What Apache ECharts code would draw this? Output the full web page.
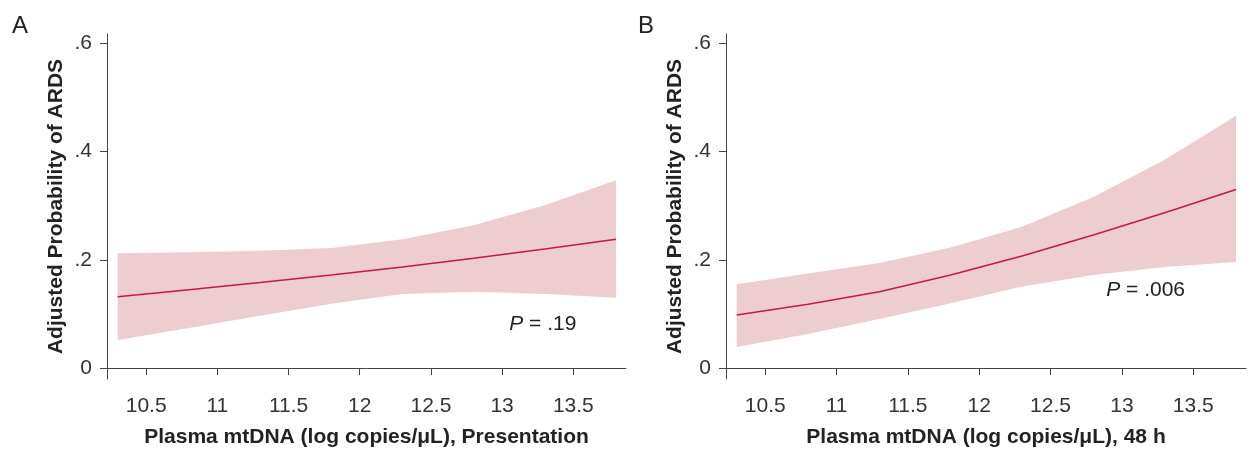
<!DOCTYPE html>
<html>
<head>
<meta charset="utf-8">
<script src="https://cdn.jsdelivr.net/npm/echarts@6/dist/echarts.min.js"></script>
<style>
  html, body { margin: 0; padding: 0; background: #fff; }
  #main { width: 1256px; height: 449px; }
</style>
</head>
<body>
<div id="main"></div>
<script>
// mtDNA values where the fit was evaluated
var mtdna = [10.3, 10.8, 11.3, 11.8, 12.3, 12.8, 13.3, 13.8];

// panel A: presentation
var probA  = [0.132, 0.145, 0.158, 0.172, 0.187, 0.203, 0.220, 0.238];
var lowerA = [0.052, 0.074, 0.097, 0.119, 0.137, 0.141, 0.137, 0.130];
var upperA = [0.212, 0.214, 0.217, 0.222, 0.238, 0.264, 0.301, 0.347];

// panel B: 48 h
var probB  = [0.098, 0.118, 0.141, 0.172, 0.207, 0.246, 0.287, 0.330];
var lowerB = [0.039, 0.063, 0.091, 0.120, 0.151, 0.172, 0.187, 0.196];
var upperB = [0.155, 0.175, 0.194, 0.223, 0.261, 0.316, 0.385, 0.466];

var xTicks = [10.5, 11, 11.5, 12, 12.5, 13, 13.5];
var yTicks = [0, 0.2, 0.4, 0.6];

var xTitles = ['Plasma mtDNA (log copies/\u03bcL), Presentation', 'Plasma mtDNA (log copies/\u03bcL), 48 h'];
var yTitle = 'Adjusted Probability of ARDS';
var pTexts = ['.19', '.006'];
var pPos = [[13.05, 0.081], [12.89, 0.144]];

var font = '"Liberation Sans", Arial, Helvetica, sans-serif';
var fs = 21;
var lineColor = '#c8164b';
var bandColor = '#eecdd0';
var axisColor = '#444';

var chart = echarts.init(document.getElementById('main'));

function pairs(xs, ys) {
  return xs.map(function (x, i) { return [x, ys[i]]; });
}

function bandSeries(idx, lower, upper) {
  return {
    type: 'custom',
    xAxisIndex: idx,
    yAxisIndex: idx,
    silent: true,
    z: 1,
    data: [[mtdna[0], lower[0]]],
    renderItem: function (params, api) {
      var pts = [];
      for (var i = 0; i < mtdna.length; i++) pts.push(api.coord([mtdna[i], upper[i]]));
      for (var j = mtdna.length - 1; j >= 0; j--) pts.push(api.coord([mtdna[j], lower[j]]));
      return {
        type: 'polygon',
        shape: { points: pts },
        style: { fill: bandColor, stroke: null }
      };
    }
  };
}

function xAxis(idx) {
  return {
    type: 'value',
    gridIndex: idx,
    min: 10.225,
    max: 13.87,
    name: xTitles[idx],
    nameLocation: 'middle',
    nameGap: 48,
    nameTextStyle: { fontFamily: font, fontSize: fs, fontWeight: 'bold', color: '#222' },
    axisLine: { show: true, lineStyle: { color: axisColor, width: 1 } },
    axisTick: { show: true, length: 7, customValues: xTicks, lineStyle: { color: axisColor } },
    axisLabel: {
      customValues: xTicks,
      margin: 17,
      fontFamily: font, fontSize: fs, color: '#333',
      formatter: function (v) { return String(v); }
    },
    splitLine: { show: false }
  };
}

function yAxis(idx) {
  return {
    type: 'value',
    gridIndex: idx,
    min: -0.02,
    max: 0.617,
    name: yTitle,
    nameLocation: 'middle',
    nameRotate: 90,
    nameGap: 40,
    nameTextStyle: { fontFamily: font, fontSize: fs, fontWeight: 'bold', color: '#222' },
    axisLine: { show: true, lineStyle: { color: axisColor, width: 1 } },
    axisTick: { show: true, length: 7, customValues: yTicks, lineStyle: { color: axisColor } },
    axisLabel: {
      customValues: yTicks,
      margin: 15,
      fontFamily: font, fontSize: fs, color: '#333',
      formatter: function (v) {
        if (Math.abs(v) < 1e-9) return '0';
        return (Math.round(v * 10) / 10).toString().replace(/^0\./, '.');
      }
    },
    splitLine: { show: false }
  };
}

function lineSeries(idx, ys) {
  return {
    type: 'line',
    xAxisIndex: idx,
    yAxisIndex: idx,
    data: pairs(mtdna, ys),
    showSymbol: false,
    smooth: false,
    z: 3,
    lineStyle: { color: lineColor, width: 1.5 },
    itemStyle: { color: lineColor }
  };
}

var option = {
  animation: false,
  backgroundColor: '#fff',
  grid: [
    { left: 107, right: 630, top: 34, bottom: 70, containLabel: false, outerBoundsMode: 'none' },
    { left: 726, right: 10, top: 34, bottom: 70, containLabel: false, outerBoundsMode: 'none' }
  ],
  xAxis: [xAxis(0), xAxis(1)],
  yAxis: [yAxis(0), yAxis(1)],
  series: [
    bandSeries(0, lowerA, upperA),
    lineSeries(0, probA),
    bandSeries(1, lowerB, upperB),
    lineSeries(1, probB)
  ]
};

chart.setOption(option);

// panel letters and P values, placed through the axis scales
var graphics = [
  { type: 'text', left: 12, top: 14, style: { text: 'A', font: '24px ' + font, fill: '#222' } },
  { type: 'text', left: 638, top: 14, style: { text: 'B', font: '24px ' + font, fill: '#222' } }
];
pPos.forEach(function (p, i) {
  var px = chart.convertToPixel({ gridIndex: i }, p);
  graphics.push({
    type: 'text',
    x: px[0],
    y: px[1],
    style: {
      text: '{i|P} = ' + pTexts[i],
      verticalAlign: 'middle',
      font: fs + 'px ' + font,
      fill: '#222',
      rich: { i: { fontStyle: 'italic', fontSize: fs, fontFamily: font, fill: '#222' } }
    }
  });
});
chart.setOption({ graphic: graphics });
</script>
</body>
</html>
